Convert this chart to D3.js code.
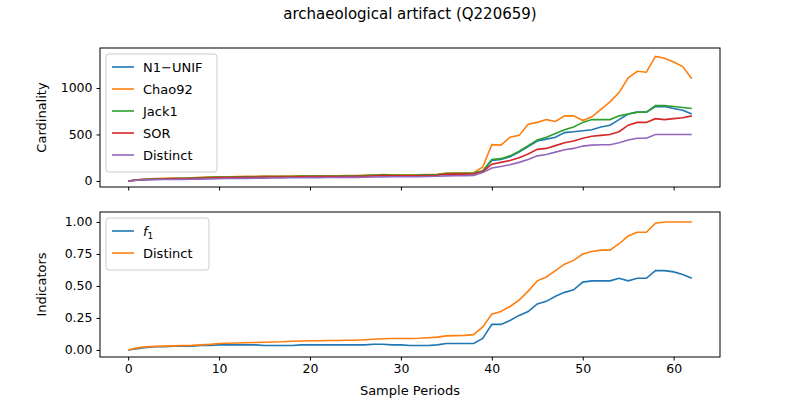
<!DOCTYPE html>
<html><head><meta charset="utf-8">
<script src="https://cdn.jsdelivr.net/npm/d3@7"></script>
<style>body{margin:0;background:#fff}text{font-family:"DejaVu Sans",sans-serif}</style>
</head><body>
<script>
// values, index = sample period 0..62
var n1Unif = [0,11,17,21,23,25,27,29,33,37,40,41,43,45,45,47,47,47,47,50,52,52,52,52,53,54,56,60,63,62,60,60,62,64,68,78,80,80,82,
  105,220,230,260,310,370,430,450,470,520,530,540,550,580,600,660,720,740,740,800,800,780,760,720];
var chao92 = [0,12,20,25,28,30,32,34,38,42,46,46,48,50,50,52,50,52,52,55,56,56,56,56,57,58,60,64,68,66,65,64,66,68,72,85,86,86,88,
  150,390,385,470,490,610,630,660,640,700,700,650,690,770,850,950,1110,1180,1170,1340,1320,1280,1230,1100];
var jack1 = [0,12,18,22,24,26,28,30,34,38,42,42,44,46,46,48,48,48,48,52,54,54,54,54,55,56,58,62,66,64,62,62,64,66,70,80,82,82,84,
  110,230,240,270,320,380,440,470,510,550,580,630,660,660,660,700,720,740,740,810,810,800,790,780];
var sor = [0,10,15,18,20,22,24,26,29,32,36,36,38,40,40,42,42,42,42,45,47,47,47,47,48,49,51,54,57,56,55,55,56,58,62,72,74,74,76,
  100,180,200,220,250,290,340,350,380,410,430,460,480,490,500,530,600,630,630,670,660,670,680,700];
var distinct = [0,8,12,14,15,16,17,18,20,22,25,26,27,28,29,30,31,32,34,35,36,36,37,37,38,38,40,42,44,45,45,45,46,48,50,55,56,57,60,
  90,140,155,175,200,230,270,285,310,335,350,375,385,390,390,410,440,460,460,500,500,500,500,500];
var indF1 = [0,0.01,0.02,0.025,0.025,0.03,0.03,0.03,0.035,0.035,0.04,0.04,0.04,0.04,0.04,0.035,0.035,0.035,0.035,0.04,0.04,0.04,0.04,0.04,0.04,0.04,0.04,0.045,0.045,0.04,0.04,0.035,0.035,0.035,0.04,0.05,0.05,0.05,0.05,
  0.09,0.20,0.20,0.23,0.27,0.30,0.36,0.38,0.42,0.45,0.47,0.53,0.54,0.54,0.54,0.56,0.54,0.56,0.56,0.62,0.62,0.61,0.59,0.56];
var indDistinct = [0,0.016,0.024,0.028,0.03,0.032,0.034,0.036,0.04,0.044,0.05,0.052,0.054,0.056,0.058,0.06,0.062,0.064,0.068,0.07,0.072,0.072,0.074,0.074,0.076,0.076,0.08,0.084,0.088,0.09,0.09,0.09,0.092,0.096,0.1,0.11,0.112,0.114,0.12,
  0.18,0.28,0.30,0.34,0.39,0.46,0.54,0.57,0.62,0.67,0.70,0.75,0.77,0.78,0.78,0.83,0.89,0.92,0.92,0.99,1.0,1.0,1.0,1.0];
var topSeries = [["N1\u2212UNIF", n1Unif], ["Chao92", chao92], ["Jack1", jack1], ["SOR", sor], ["Distinct", distinct]];
var botSeries = [["f1", indF1], ["Distinct", indDistinct]];
var colors = ["#1f77b4", "#ff7f0e", "#2ca02c", "#d62728", "#9467bd"];

var svg = d3.select("body").append("svg").attr("width", 800).attr("height", 400);
var left = 100, right = 720;
var x = d3.scaleLinear().domain([-3.1, 65.1]).range([left, right]);

svg.append("text").attr("x", 410).attr("y", 19).attr("text-anchor", "middle")
  .style("font-size", "15px").text("archaeological artifact (Q220659)");

function panel(top, bottom, y, ticks, fmt, series, ylabel, showX, legendH) {
  var g = svg.append("g");
  g.append("g").attr("transform", "translate(0," + bottom + ")")
    .call(d3.axisBottom(x).tickValues([0,10,20,30,40,50,60]).tickSize(3.5).tickPadding(4)
      .tickFormat(showX ? d3.format("d") : ""));
  g.append("g").attr("transform", "translate(" + left + ",0)")
    .call(d3.axisLeft(y).tickValues(ticks).tickSize(3.5).tickPadding(4).tickFormat(fmt));
  g.selectAll(".domain").remove();
  g.selectAll(".tick text").style("font-size", "12.5px").attr("fill", "#000");
  var line = d3.line().x(function(d, i) { return x(i); }).y(function(d) { return y(d); });
  series.forEach(function(s, i) {
    g.append("path").datum(s[1]).attr("d", line).attr("fill", "none")
      .attr("stroke", colors[i]).attr("stroke-width", 1.6);
  });
  g.append("rect").attr("x", left).attr("y", top).attr("width", right - left).attr("height", bottom - top)
    .attr("fill", "none").attr("stroke", "#000").attr("stroke-width", 1);
  g.append("text").attr("transform", "translate(46," + (top + bottom) / 2 + ") rotate(-90)")
    .attr("text-anchor", "middle").style("font-size", "13px").text(ylabel);
  // legend
  var lg = g.append("g").attr("transform", "translate(" + (left + 6) + "," + (top + 6) + ")");
  var w = series.length > 2 ? 111 : 103;
  lg.append("rect").attr("width", w).attr("height", series.length * legendH + 8).attr("rx", 3)
    .attr("fill", "#fff").attr("fill-opacity", 0.8).attr("stroke", "#ccc");
  series.forEach(function(s, i) {
    var yy = 13 + i * legendH;
    lg.append("line").attr("x1", 6).attr("x2", 28).attr("y1", yy).attr("y2", yy)
      .attr("stroke", colors[i]).attr("stroke-width", 1.6);
    var t = lg.append("text").attr("x", 37).attr("y", yy + 4.5).style("font-size", "13px");
    if (s[0] === "f1") {
      t.append("tspan").style("font-style", "italic").text("f");
      t.append("tspan").attr("dy", 3).style("font-size", "9px").text("1");
    } else t.text(s[0]);
  });
}

var yTop = d3.scaleLinear().domain([-65, 1430]).range([187, 48]);
panel(48, 187, yTop, [0, 500, 1000], d3.format("d"), topSeries, "Cardinality", false, 22);
var yBot = d3.scaleLinear().domain([-0.055, 1.078]).range([357, 212]);
panel(212, 357, yBot, [0, 0.25, 0.5, 0.75, 1.0], d3.format(".2f"), botSeries, "Indicators", true, 22);

svg.append("text").attr("x", 410).attr("y", 395).attr("text-anchor", "middle")
  .style("font-size", "13px").text("Sample Periods");
</script>
</body></html>
